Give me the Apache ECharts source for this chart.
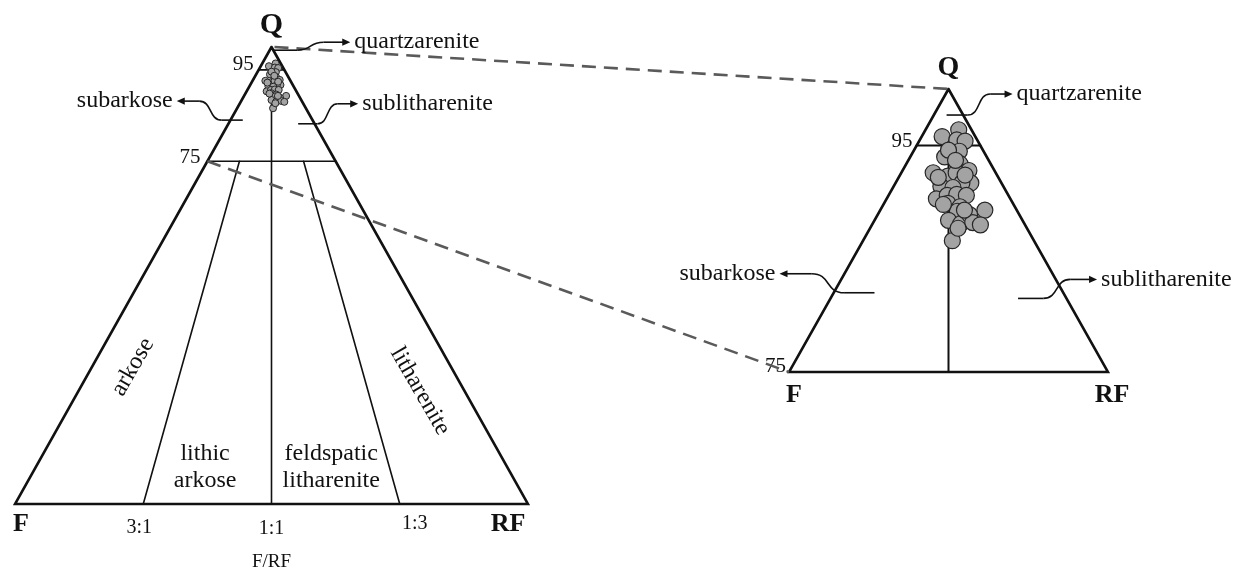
<!DOCTYPE html>
<html>
<head>
<meta charset="utf-8">
<script src="https://cdn.jsdelivr.net/npm/echarts@6/dist/echarts.min.js"></script>
<style>
  html, body { margin: 0; padding: 0; background: #fff; }
  #chart { width: 1238px; height: 572px; }
</style>
</head>
<body>
<div id="chart"></div>
<script>
// Sandstone samples: percent quartz (Q), feldspar (F) and rock fragments (RF)
const sampleQ  = [96.4, 95.8, 95.5, 95.4, 94.5, 94.0, 93.4, 92.8, 92.6, 92.3, 92.6, 91.7, 91.7, 91.4, 91.3, 90.3, 90.6, 90.7,
                  90.6, 89.9, 89.6, 89.2, 89.3, 88.4, 88.1, 88.9, 88.2, 88.0, 86.6, 94.6, 92.2, 92.4, 89.8, 89.3, 87.7, 93.7];
const sampleF  = [1.0, 2.6, 1.6, 1.0, 1.9, 3.3, 2.4, 2.0, 4.9, 3.9, 3.1, 2.4, 3.1, 4.9, 4.0, 5.8, 4.8, 4.0,
                  3.3, 5.1, 4.3, 4.7, 2.5, 5.8, 5.0, 3.9, 4.0, 3.5, 6.4, 2.7, 4.7, 2.5, 5.5, 4.1, 5.4, 2.6];
const sampleRF = [2.6, 1.6, 2.9, 3.6, 3.6, 2.7, 4.2, 5.2, 2.5, 3.8, 4.3, 5.9, 5.2, 3.7, 4.7, 3.9, 4.6, 5.3,
                  6.1, 5.0, 6.1, 6.1, 8.2, 5.8, 6.9, 7.2, 7.8, 8.5, 7.0, 2.7, 3.1, 5.1, 4.7, 6.6, 6.9, 3.7];

// Classification limits (Folk, 1980)
const quartzLimits = [95, 75];            // % Q boundaries
const ratioRF      = [25, 50, 75];        // % RF of F+RF at the 3:1, 1:1, 1:3 lines
const ratioLabels  = ['3:1', '1:1', '1:3'];
const baseTitle    = 'F/RF';
const apexNames    = ['Q', 'F', 'RF'];
const classNames   = ['quartzarenite', 'subarkose', 'sublitharenite', 'arkose', 'lithic\narkose',
                      'feldspatic\nlitharenite', 'litharenite'];

const SERIF = '"Liberation Serif", "Times New Roman", serif';
const INK = '#111111';

// ternary (Q, F, RF) -> cartesian [x, y] in percent units
function tern(q, f, rf) {
  const s = q + f + rf;
  return [(rf + q / 2) / s * 100, q / s * 100];
}

function seg(gi, pts, width) {
  return {
    type: 'line', xAxisIndex: gi, yAxisIndex: gi, clip: false, silent: true, animation: false,
    symbol: 'none', z: 3,
    lineStyle: { color: INK, width: width, cap: 'round', join: 'miter', opacity: 1 },
    data: pts.map(p => tern(p[0], p[1], p[2]))
  };
}

function texts(gi, items) {
  return {
    type: 'scatter', xAxisIndex: gi, yAxisIndex: gi, clip: false, silent: true, animation: false,
    symbolSize: 1, itemStyle: { color: 'rgba(0,0,0,0)', opacity: 1 }, z: 5,
    data: items.map(it => ({
      value: tern(it.at[0], it.at[1], it.at[2]),
      label: Object.assign({
        show: true, position: 'inside', formatter: it.text, color: INK, opacity: 1,
        textBorderWidth: 0, fontFamily: SERIF, fontSize: 24
      }, it.label || {})
    }))
  };
}

function samples(gi, size) {
  return {
    type: 'scatter', xAxisIndex: gi, yAxisIndex: gi, clip: false, silent: true, animation: false,
    symbolSize: size, z: 4,
    itemStyle: { color: '#a3a3a3', opacity: 1, borderColor: '#262626', borderWidth: size > 10 ? 1.2 : 1 },
    data: sampleQ.map((q, i) => tern(q, sampleF[i], sampleRF[i]))
  };
}

const q95 = quartzLimits[0], q75 = quartzLimits[1];
const bold = (s) => ({ fontWeight: 'bold', fontSize: s });

const series = [
  // full diagram
  seg(0, [[100, 0, 0], [0, 100, 0], [0, 0, 100], [100, 0, 0]], 2.6),
  seg(0, [[q95, 100 - q95, 0], [q95, 0, 100 - q95]], 1.6),
  seg(0, [[q75, 100 - q75, 0], [q75, 0, 100 - q75]], 1.6),
  ...ratioRF.map(r => {
    const top = r === 50 ? q95 : q75;
    return seg(0, [[top, (100 - top) * (100 - r) / 100, (100 - top) * r / 100], [0, 100 - r, r]], 1.6);
  }),
  samples(0, 7),
  texts(0, [
    { at: [100, 0, 0], text: apexNames[0], label: Object.assign({ offset: [0, -22] }, bold(30)) },
    { at: [0, 100, 0], text: apexNames[1], label: Object.assign({ offset: [6, 20] }, bold(26)) },
    { at: [0, 0, 100], text: apexNames[2], label: Object.assign({ offset: [-20, 20] }, bold(26)) },
    { at: [0, 100 - ratioRF[0], ratioRF[0]], text: ratioLabels[0], label: { offset: [-4, 24], fontSize: 20 } },
    { at: [0, 100 - ratioRF[1], ratioRF[1]], text: ratioLabels[1], label: { offset: [0, 25], fontSize: 20 } },
    { at: [0, 100 - ratioRF[2], ratioRF[2]], text: ratioLabels[2], label: { offset: [15, 20], fontSize: 20 } },
    { at: [0, 50, 50], text: baseTitle, label: { offset: [0, 58], fontSize: 19 } },
    { at: [q95, 100 - q95, 0], text: String(q95), label: { offset: [-5, -5], align: 'right', fontSize: 21 } },
    { at: [q75, 100 - q75, 0], text: String(q75), label: { offset: [-7, -4], align: 'right', fontSize: 21 } },
    { at: [30, 62, 8], text: classNames[3], label: { rotate: 60 } },
    { at: [24.7, 8.7, 66.6], text: classNames[6], label: { rotate: -60 } },
    { at: [8.1, 58.9, 33.0], text: classNames[4], label: { lineHeight: 27 } },
    { at: [8.1, 34.3, 57.6], text: classNames[5], label: { lineHeight: 27 } }
  ]),
  // enlarged quartz-rich corner
  seg(1, [[100, 0, 0], [q75, 100 - q75, 0], [q75, 0, 100 - q75], [100, 0, 0]], 2.6),
  seg(1, [[q95, 100 - q95, 0], [q95, 0, 100 - q95]], 2),
  seg(1, [[q95, (100 - q95) / 2, (100 - q95) / 2], [q75, (100 - q75) / 2, (100 - q75) / 2]], 2),
  samples(1, 16),
  texts(1, [
    { at: [100, 0, 0], text: apexNames[0], label: Object.assign({ offset: [0, -21] }, bold(28)) },
    { at: [q75, 100 - q75, 0], text: apexNames[1], label: Object.assign({ offset: [5, 23] }, bold(26)) },
    { at: [q75, 0, 100 - q75], text: apexNames[2], label: Object.assign({ offset: [4, 23] }, bold(26)) },
    { at: [q95, 100 - q95, 0], text: String(q95), label: { offset: [-4, -4], align: 'right', fontSize: 21 } },
    { at: [q75, 100 - q75, 0], text: String(q75), label: { offset: [-3, -6], align: 'right', fontSize: 21 } }
  ])
];

const chart = echarts.init(document.getElementById('chart'), null, { renderer: 'canvas' });
chart.setOption({
  animation: false,
  backgroundColor: '#ffffff',
  grid: [
    { left: 15, top: 47, width: 513, height: 457 },
    { left: 789, top: 89, width: 319, height: 283 }
  ],
  xAxis: [
    { gridIndex: 0, type: 'value', min: 0, max: 100, show: false },
    { gridIndex: 1, type: 'value', min: 37.5, max: 62.5, show: false }
  ],
  yAxis: [
    { gridIndex: 0, type: 'value', min: 0, max: 100, show: false },
    { gridIndex: 1, type: 'value', min: 75, max: 100, show: false }
  ],
  series: series
});

// Leader arrows from each field to its name, and the dashed zoom guides
const px = (gi, c) => chart.convertToPixel({ gridIndex: gi }, tern(c[0], c[1], c[2]));

const callouts = [
  { gi: 0, from: [99.3, 0.2, 0.5], d: [78, -8], name: classNames[0] },
  { gi: 0, from: [84.0, 13.6, 2.4], d: [-66, -19], name: classNames[1] },
  { gi: 0, from: [83.2, 3.2, 13.6], d: [60, -20], name: classNames[2] },
  { gi: 1, from: [97.7, 1.3, 1.0], d: [66, -21], name: classNames[0] },
  { gi: 1, from: [82.0, 14.8, 3.2], d: [-95, -19], name: classNames[1] },
  { gi: 1, from: [81.5, 3.8, 14.7], d: [79, -19], name: classNames[2] }
];

const graphics = [];
const guide = (a, b) => graphics.push({
  type: 'line', z: 10, silent: true,
  shape: { x1: a[0], y1: a[1], x2: b[0], y2: b[1] },
  style: { stroke: '#5a5a5a', lineWidth: 2.6, lineDash: [14, 8] }
});
const apexL = px(0, [100, 0, 0]), apexR = px(1, [100, 0, 0]);
guide([apexL[0] + 3, apexL[1]], apexR);
guide(px(0, [q75, 100 - q75, 0]), px(1, [q75, 100 - q75, 0]));

callouts.forEach(c => {
  const t = px(c.gi, c.from);
  const dx = c.d[0], dy = c.d[1];
  const tip = [t[0] + dx, t[1] + dy];
  const sgn = Math.sign(dx);
  const a = [t[0] + 0.32 * dx, t[1]];
  const b = [t[0] + 0.66 * dx, tip[1]];
  const head = 8;
  const stroke = { stroke: INK, lineWidth: 1.6, fill: null };
  graphics.push({ type: 'line', silent: true, z: 11, shape: { x1: t[0], y1: t[1], x2: a[0], y2: a[1] }, style: stroke });
  graphics.push({
    type: 'bezierCurve', silent: true, z: 11,
    shape: { x1: a[0], y1: a[1], x2: b[0], y2: b[1],
             cpx1: a[0] + 0.2 * dx, cpy1: a[1], cpx2: b[0] - 0.2 * dx, cpy2: b[1] },
    style: stroke
  });
  graphics.push({ type: 'line', silent: true, z: 11,
    shape: { x1: b[0], y1: b[1], x2: tip[0] - sgn * (head - 2), y2: tip[1] }, style: stroke });
  graphics.push({ type: 'polygon', silent: true, z: 11,
    shape: { points: [[tip[0], tip[1]], [tip[0] - sgn * head, tip[1] - 3.6], [tip[0] - sgn * head, tip[1] + 3.6]] },
    style: { fill: INK } });
  graphics.push({ type: 'text', silent: true, z: 11,
    style: { text: c.name, x: tip[0] + sgn * 4, y: tip[1], fill: INK, font: '24px ' + SERIF,
             align: sgn > 0 ? 'left' : 'right', verticalAlign: 'middle' } });
});

chart.setOption({ graphic: { elements: graphics } });
</script>
</body>
</html>
